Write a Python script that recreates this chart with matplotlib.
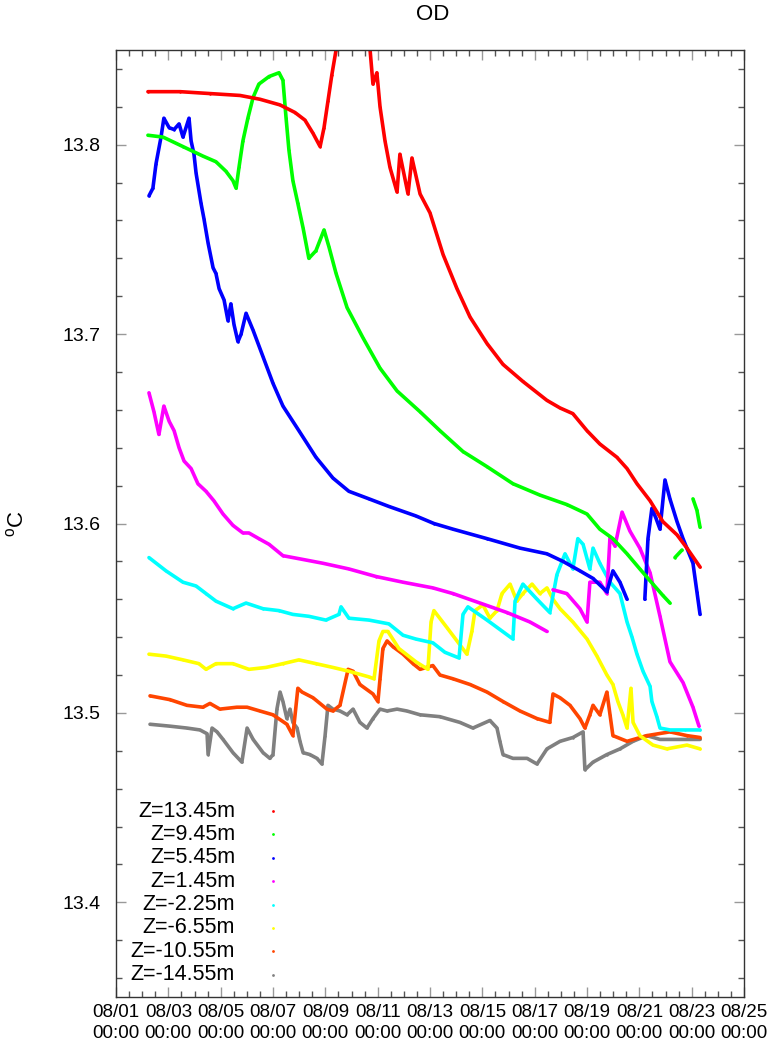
import numpy as np
import pandas as pd
import matplotlib
matplotlib.use('Agg')
import matplotlib.pyplot as plt
import matplotlib.dates as mdates

plt.rcParams['font.family'] = ['Liberation Sans', 'DejaVu Sans']
plt.rcParams['mathtext.fontset'] = 'custom'
plt.rcParams['mathtext.rm'] = 'Liberation Sans'
plt.rcParams['mathtext.it'] = 'Liberation Sans'

start = pd.Timestamp('2022-08-01 00:00')

# temperature per depth, time in days since 08/01 00:00, NaN = gap in record
red_t = [1.22, 2.45, 3.59, 4.74, 5.50, 6.27, 6.84, 7.22, 7.53, 7.80, 7.95, 8.10, 8.25, 8.41,
         8.75, 9.10, 9.45, 9.71, 9.82, 9.97, 10.09, 10.28, 10.47, 10.74, 10.85, 11.16, 11.31,
         11.62, 12.00, 12.50, 13.03, 13.53, 14.18, 14.79, 15.55, 16.47, 16.97, 17.46, 18.00,
         18.49, 19.14, 19.53, 19.91, 20.41, 20.90, 21.44, 21.82, 22.32]
red_v = [13.828, 13.828, 13.827, 13.826, 13.824, 13.821, 13.817, 13.813, 13.806, 13.799,
         13.809, 13.823, 13.837, 13.850, 13.870, 13.880, 13.870, 13.850, 13.832, 13.838,
         13.820, 13.802, 13.788, 13.775, 13.795, 13.774, 13.793, 13.774, 13.764, 13.742,
         13.724, 13.709, 13.695, 13.684, 13.675, 13.665, 13.661, 13.658, 13.649, 13.642,
         13.635, 13.629, 13.621, 13.612, 13.601, 13.594, 13.587, 13.577]

green_t = [1.22, 1.80, 2.56, 3.32, 3.82, 4.20, 4.47, 4.59, 4.70, 4.85, 5.04, 5.24, 5.46, 5.85,
           6.23, 6.38, 6.50, 6.61, 6.76, 6.95, 7.15, 7.37, 7.64, 7.95, 8.14, 8.41, 8.83, 9.44,
           10.09, 10.74, 11.62, 12.38, 13.26, 14.18, 15.17, 16.20, 17.23, 18.00, 18.49, 18.99,
           19.53, 20.02, 20.52, 20.90, 21.17, 21.26, 21.36, 21.63, 21.85, 22.05, 22.20, 22.32]
green_v = [13.805, 13.804, 13.799, 13.794, 13.791, 13.786, 13.781, 13.777, 13.788, 13.802,
           13.814, 13.825, 13.832, 13.836, 13.838, 13.834, 13.814, 13.797, 13.781, 13.769,
           13.756, 13.740, 13.744, 13.755, 13.746, 13.732, 13.714, 13.698, 13.682, 13.670,
           13.659, 13.649, 13.638, 13.630, 13.621, 13.615, 13.610, 13.605, 13.597, 13.592,
           13.584, 13.576, 13.568, 13.562, 13.558, np.nan, 13.582, 13.586, np.nan, 13.613,
           13.607, 13.598]

blue_t = [1.26, 1.41, 1.53, 1.72, 1.83, 2.03, 2.22, 2.41, 2.56, 2.79, 2.87, 2.98, 3.06, 3.25,
          3.36, 3.52, 3.71, 3.82, 3.94, 4.13, 4.28, 4.39, 4.51, 4.66, 4.78, 4.97, 5.24, 5.62,
          6.00, 6.38, 6.99, 7.64, 8.29, 8.90, 9.67, 10.43, 11.46, 12.15, 12.88, 14.18, 15.44,
          16.47, 17.08, 17.73, 18.23, 18.76, 18.99, 19.26, 19.53, 19.90, 20.21, 20.33, 20.48,
          20.63, 20.79, 20.98, 21.17, 21.44, 21.67, 22.05, 22.20, 22.32]
blue_v = [13.773, 13.777, 13.790, 13.804, 13.814, 13.809, 13.808, 13.811, 13.804, 13.814,
          13.802, 13.795, 13.785, 13.769, 13.761, 13.748, 13.735, 13.732, 13.724, 13.718,
          13.707, 13.716, 13.705, 13.696, 13.700, 13.711, 13.702, 13.688, 13.674, 13.662,
          13.649, 13.635, 13.624, 13.617, 13.613, 13.609, 13.604, 13.600, 13.597, 13.592,
          13.587, 13.584, 13.580, 13.575, 13.571, 13.564, 13.575, 13.569, 13.560, np.nan,
          13.560, 13.592, 13.608, 13.603, 13.597, 13.623, 13.613, 13.601, 13.592, 13.579,
          13.564, 13.552]

magenta_t = [1.26, 1.45, 1.64, 1.83, 2.03, 2.22, 2.41, 2.60, 2.87, 3.13, 3.44, 3.74, 4.09,
             4.47, 4.85, 5.08, 5.46, 5.85, 6.38, 7.15, 7.91, 8.90, 9.94, 10.97, 12.11, 12.88,
             13.91, 14.94, 15.82, 16.47, 16.60, 16.70, 17.23, 17.73, 18.00, 18.11, 18.49,
             18.76, 18.88, 19.07, 19.34, 19.64, 20.02, 20.41, 20.79, 21.17, 21.67, 22.05, 22.28]
magenta_v = [13.669, 13.659, 13.647, 13.662, 13.654, 13.649, 13.640, 13.633, 13.629, 13.621,
             13.617, 13.612, 13.605, 13.599, 13.595, 13.595, 13.592, 13.589, 13.583, 13.581,
             13.579, 13.576, 13.572, 13.569, 13.566, 13.563, 13.558, 13.553, 13.548, 13.543,
             np.nan, 13.565, 13.563, 13.555, 13.548, 13.569, 13.569, 13.563, 13.593, 13.588,
             13.606, 13.596, 13.587, 13.574, 13.551, 13.527, 13.516, 13.503, 13.493]

cyan_t = [1.26, 1.91, 2.56, 3.06, 3.44, 3.82, 4.47, 4.97, 5.62, 6.23, 6.76, 7.37, 8.02, 8.52,
          8.60, 8.90, 9.67, 10.43, 10.97, 11.46, 12.11, 12.57, 13.11, 13.26, 13.45, 14.18,
          15.17, 15.25, 15.55, 16.09, 16.58, 16.85, 17.16, 17.46, 17.65, 17.85, 18.11, 18.23,
          18.49, 18.88, 19.26, 19.53, 19.72, 19.91, 20.14, 20.41, 20.48, 20.67, 20.79, 21.17,
          21.74, 22.32]
cyan_v = [13.582, 13.575, 13.569, 13.567, 13.563, 13.559, 13.555, 13.558, 13.555, 13.554,
          13.552, 13.551, 13.549, 13.552, 13.556, 13.550, 13.549, 13.547, 13.541, 13.539,
          13.537, 13.532, 13.529, 13.552, 13.556, 13.549, 13.539, 13.559, 13.568, 13.560,
          13.553, 13.573, 13.584, 13.576, 13.592, 13.589, 13.576, 13.587, 13.579, 13.569,
          13.563, 13.548, 13.540, 13.531, 13.522, 13.514, 13.506, 13.498, 13.492, 13.491,
          13.491, 13.491]

yellow_t = [1.26, 1.91, 2.56, 3.17, 3.44, 3.82, 4.47, 5.08, 5.73, 6.38, 6.99, 7.64, 8.29, 8.90,
            9.67, 9.86, 10.05, 10.20, 10.39, 10.81, 11.46, 11.92, 12.04, 12.15, 12.65, 13.14,
            13.41, 13.60, 13.72, 14.02, 14.29, 14.56, 14.75, 15.06, 15.32, 15.55, 15.90, 16.20,
            16.47, 16.70, 16.97, 17.46, 18.00, 18.38, 18.76, 18.99, 19.18, 19.37, 19.53, 19.68,
            19.76, 20.02, 20.52, 21.05, 21.82, 22.32]
yellow_v = [13.531, 13.530, 13.528, 13.526, 13.523, 13.526, 13.526, 13.523, 13.524, 13.526,
            13.528, 13.526, 13.524, 13.522, 13.519, 13.518, 13.538, 13.543, 13.543, 13.534,
            13.527, 13.523, 13.548, 13.554, 13.545, 13.536, 13.531, 13.543, 13.554, 13.557,
            13.550, 13.554, 13.563, 13.568, 13.559, 13.563, 13.568, 13.563, 13.566, 13.560,
            13.555, 13.548, 13.539, 13.530, 13.520, 13.515, 13.506, 13.499, 13.492, 13.513,
            13.495, 13.488, 13.483, 13.481, 13.483, 13.481]

orange_t = [1.30, 2.06, 2.71, 3.32, 3.59, 3.97, 4.62, 5.01, 5.50, 6.00, 6.53, 6.76, 6.95, 7.11,
            7.53, 8.06, 8.29, 8.56, 8.87, 9.06, 9.32, 9.82, 10.01, 10.09, 10.20, 10.36, 10.58,
            10.97, 11.35, 11.62, 12.11, 12.38, 12.88, 13.53, 14.18, 14.79, 15.44, 16.09, 16.58,
            16.70, 16.97, 17.35, 17.73, 17.92, 18.11, 18.23, 18.49, 18.76, 18.88, 18.99, 19.53,
            20.29, 21.17, 21.82, 22.32]
orange_v = [13.509, 13.507, 13.504, 13.503, 13.505, 13.502, 13.503, 13.503, 13.501, 13.499,
            13.494, 13.488, 13.513, 13.511, 13.508, 13.502, 13.501, 13.504, 13.523, 13.522,
            13.515, 13.510, 13.506, 13.518, 13.534, 13.538, 13.535, 13.531, 13.526, 13.523,
            13.525, 13.520, 13.518, 13.515, 13.511, 13.506, 13.501, 13.497, 13.495, 13.510,
            13.508, 13.504, 13.497, 13.492, 13.499, 13.504, 13.499, 13.511, 13.499, 13.488,
            13.485, 13.488, 13.490, 13.488, 13.487]

gray_t = [1.30, 2.06, 2.71, 3.21, 3.48, 3.52, 3.67, 3.86, 4.09, 4.47, 4.81, 5.01, 5.24, 5.62,
          5.88, 6.00, 6.15, 6.27, 6.38, 6.53, 6.65, 6.76, 6.92, 7.03, 7.15, 7.41, 7.68, 7.87,
          7.99, 8.10, 8.29, 8.56, 8.83, 9.06, 9.32, 9.59, 9.82, 10.09, 10.36, 10.74, 11.12,
          11.62, 12.38, 13.14, 13.64, 14.29, 14.56, 14.67, 14.79, 15.17, 15.71, 16.09, 16.47,
          16.97, 17.46, 17.85, 17.92, 18.23, 18.76, 19.26, 19.76, 20.29, 20.79, 21.28, 21.82,
          22.32]
gray_v = [13.494, 13.493, 13.492, 13.491, 13.489, 13.478, 13.492, 13.490, 13.486, 13.479,
          13.474, 13.492, 13.486, 13.479, 13.476, 13.478, 13.502, 13.511, 13.506, 13.497,
          13.502, 13.495, 13.492, 13.485, 13.479, 13.478, 13.476, 13.473, 13.488, 13.504,
          13.502, 13.501, 13.499, 13.502, 13.495, 13.492, 13.497, 13.502, 13.501, 13.502,
          13.501, 13.499, 13.498, 13.495, 13.492, 13.496, 13.492, 13.485, 13.478, 13.476,
          13.476, 13.473, 13.481, 13.485, 13.487, 13.490, 13.470, 13.474, 13.478, 13.481,
          13.485, 13.488, 13.486, 13.486, 13.486, 13.486]

labels = ['Z=13.45m', 'Z=9.45m', 'Z=5.45m', 'Z=1.45m',
          'Z=-2.25m', 'Z=-6.55m', 'Z=-10.55m', 'Z=-14.55m']
colors = ['#ff0000', '#00ff00', '#0000ff', '#ff00ff',
          '#00ffff', '#ffff00', '#ff4500', '#808080']
series = [(red_t, red_v), (green_t, green_v), (blue_t, blue_v), (magenta_t, magenta_v),
          (cyan_t, cyan_v), (yellow_t, yellow_v), (orange_t, orange_v), (gray_t, gray_v)]

fig = plt.figure(figsize=(7.78, 10.53), dpi=100)
ax = fig.add_axes([116/778, 56/1053, 628/778, 947/1053])

# draw bottom depth first so the shallow ones end up on top
for (t, v), c in list(zip(series, colors))[::-1]:
    times = start + pd.to_timedelta(np.array(t), unit='D')
    ax.plot(times, v, color=c, lw=2.6, marker='.', ms=3.5, mew=0, solid_capstyle='round')

ax.set_xlim(start, start + pd.Timedelta(days=24))
ax.set_ylim(13.35, 13.85)

ax.xaxis.set_major_locator(mdates.DayLocator(bymonthday=range(1, 32, 2)))
ax.xaxis.set_minor_locator(mdates.HourLocator(byhour=[0, 12]))
ax.xaxis.set_major_formatter(mdates.DateFormatter('%m/%d\n%H:%M'))
ax.yaxis.set_major_locator(matplotlib.ticker.MultipleLocator(0.1))
ax.yaxis.set_minor_locator(matplotlib.ticker.MultipleLocator(0.02))
ax.yaxis.set_major_formatter(matplotlib.ticker.FormatStrFormatter('%.1f'))

ax.tick_params(which='both', direction='in', top=True, right=True)
ax.tick_params(which='major', length=7, width=1, color='#999999')
ax.tick_params(which='minor', length=4, width=1, color='#555555')
ax.tick_params(axis='y', which='major', labelsize=14, pad=11)
ax.tick_params(axis='x', which='major', labelsize=13.5, pad=5)
for lab in ax.get_xticklabels():
    lab.set_linespacing(1.3)

for sp in ax.spines.values():
    sp.set_color('#333333')
    sp.set_linewidth(1)

ax.set_ylabel('$\\mathregular{^{o}C}$', fontsize=16)
ax.yaxis.set_label_coords(-0.140, 0.5)
fig.text(433/778, 1 - 15/1053, 'OD', ha='center', va='center', fontsize=16)

# key: label text to the left, sample dot to the right
for i, (lab, c) in enumerate(zip(labels, colors)):
    y = 0.1964 - i * 0.0247
    ax.text(0.1895, y, lab, transform=ax.transAxes, ha='right', va='center', fontsize=15.5)
    ax.plot([0.25], [y], transform=ax.transAxes, color=c, marker='.', ms=4, mew=0, ls='none')

fig.savefig('out.png', dpi=100)
